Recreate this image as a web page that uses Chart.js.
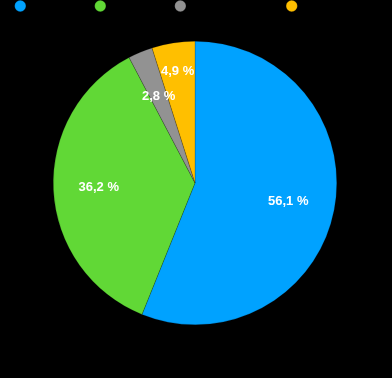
<!DOCTYPE html>
<html>
<head>
<meta charset="utf-8">
<script src="https://cdn.jsdelivr.net/npm/chart.js@4"></script>
<style>
  html, body { margin: 0; padding: 0; background: #000; }
  #wrap { width: 392px; height: 378px; }
</style>
</head>
<body>
<div id="wrap"><canvas id="chart"></canvas></div>
<script>
const labels = ["Branche A", "Branche B", "Branche C autre", "Branche D xx"];
const values = [56.1, 36.2, 2.8, 4.9];
const colors = ["#00A2FF", "#61D836", "#929292", "#FFBF00"];
const labelRadius = [0.67, 0.68, 0.665, 0.8];

// percent labels inside the slices
const pctLabels = {
    id: "pctLabels",
    afterDatasetsDraw(chart) {
        const ctx = chart.ctx;
        const meta = chart.getDatasetMeta(0);
        ctx.save();
        ctx.font = "bold 13px 'Liberation Sans', Arial, sans-serif";
        ctx.fillStyle = "#fff";
        ctx.textAlign = "center";
        ctx.textBaseline = "middle";
        meta.data.forEach((arc, i) => {
            const mid = (arc.startAngle + arc.endAngle) / 2;
            const r = arc.outerRadius * labelRadius[i];
            const x = arc.x + Math.cos(mid) * r;
            const y = arc.y + Math.sin(mid) * r;
            ctx.fillText(values[i].toFixed(1).replace(".", ",") + " %", x, y);
        });
        ctx.restore();
    }
};

// extra gap below the legend
const legendGap = {
    id: "legendGap",
    beforeInit(chart) {
        const fit = chart.legend.fit;
        chart.legend.fit = function () {
            fit.bind(chart.legend)();
            this.height += 19;
        };
    }
};

new Chart(document.getElementById("chart"), {
    type: "pie",
    data: {
        labels,
        datasets: [{
            data: values,
            backgroundColor: colors,
            borderColor: "rgba(0,0,0,0.35)",
            borderWidth: 0.5
        }]
    },
    options: {
        responsive: true,
        maintainAspectRatio: false,
        animation: false,
        layout: { padding: { top: -10, bottom: 53, left: 0, right: 2 } },
        plugins: {
            legend: {
                position: "top",
                labels: {
                    color: "#000",
                    usePointStyle: true,
                    boxWidth: 8,
                    boxHeight: 8,
                    padding: 10,
                    font: { size: 12 }
                }
            },
            tooltip: { enabled: false }
        }
    },
    plugins: [legendGap, pctLabels]
});
</script>
</body>
</html>
